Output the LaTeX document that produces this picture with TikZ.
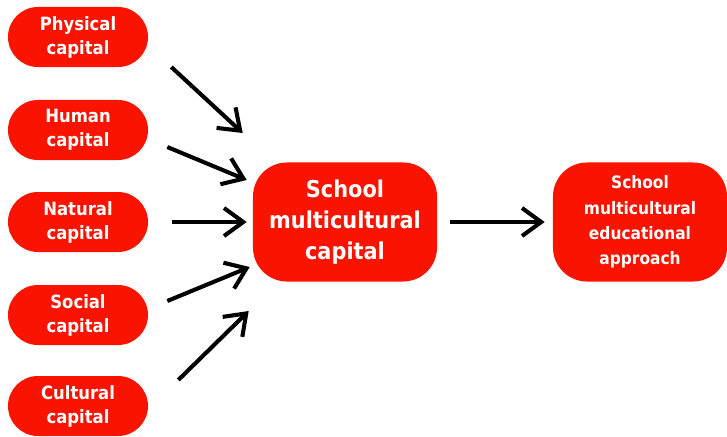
\documentclass[tikz,border=0pt]{standalone}
\usepackage{fontspec}
\newfontfamily\capfont{DejaVu Sans Condensed}
\usetikzlibrary{calc,arrows.meta}
\definecolor{capred}{RGB}{250,20,0}
\begin{document}
\begin{tikzpicture}[x = 0.025cm, y = -0.025cm,
	capbox/.style = {fill = capred, text = white, align = center, inner sep = 0pt,
		font = \capfont\bfseries\fontsize{13}{17}\selectfont},
	small/.style = {capbox, minimum width = 3.5cm, minimum height = 1.5cm, rounded corners = 0.75cm},
	big/.style = {capbox, minimum height = 2.975cm, rounded corners = 0.85cm},
	arr/.style = {line width = 2.9pt, -{Straight Barb[length = 4.8mm, width = 7mm, line width = 2.9pt]}}]
	\useasboundingbox (0, 0) rectangle (727, 436);
	% the five capitals
	\node[small] (phys) at (78, 37)  {Physical\\capital};
	\node[small] (human) at (78, 130) {Human\\capital};
	\node[small] (nat) at (78, 222) {Natural\\capital};
	\node[small] (soc) at (78, 315) {Social\\capital};
	\node[small] (cult) at (78, 406) {Cultural\\capital};
	% the school boxes
	\node[big, minimum width = 4.6cm, font = \capfont\bfseries\fontsize{16.5}{22}\selectfont] (school) at (345, 222) {School\\multicultural\\capital};
	\node[big, minimum width = 4.35cm, font = \capfont\bfseries\fontsize{12.2}{18}\selectfont] (appr) at (640, 222) {School\\multicultural\\educational\\approach};
	% arrows
	\draw[arr] ($(phys.east) + (23, 30)$)  -- ($(school.west) + (-10, -89)$);
	\draw[arr] ($(human.east) + (19, 17)$) -- ($(school.west) + (-6, -42)$);
	\draw[arr] ($(nat.east) + (24, 0)$)    -- ($(school.west) + (-6, 0)$);
	\draw[arr] ($(soc.east) + (19, -14)$)  -- ($(school.west) + (-3, 45)$);
	\draw[arr] ($(cult.east) + (30, -26)$) -- ($(school.west) + (-4, 89)$);
	\draw[arr] ($(school.east) + (13, 0)$) -- ($(appr.west) + (-8, 0)$);
\end{tikzpicture}
\end{document}
